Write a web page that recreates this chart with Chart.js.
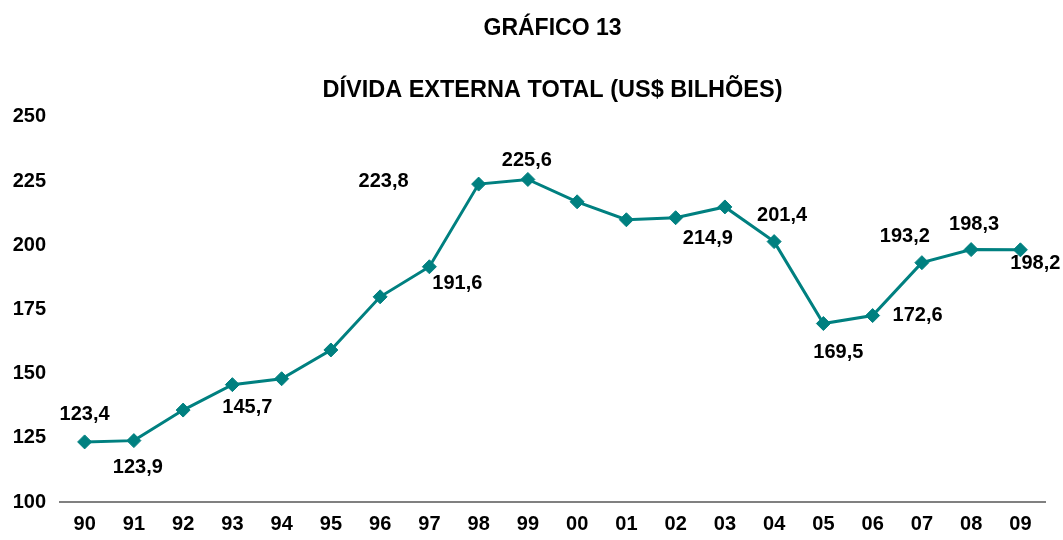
<!DOCTYPE html>
<html>
<head>
<meta charset="utf-8">
<script src="https://cdn.jsdelivr.net/npm/chart.js@4/dist/chart.umd.min.js"></script>
<style>
  body { margin: 0; background: #fff; }
  #wrap { width: 1063px; height: 540px; }
</style>
</head>
<body>
<div id="wrap"><canvas id="chart" width="1063" height="540"></canvas></div>
<script>
// anos (eixo x)
const years = ['90','91','92','93','94','95','96','97','98','99','00','01','02','03','04','05','06','07','08','09']
// divida externa total, US$ bilhoes
const debt = [123.4, 123.9, 135.8, 145.7, 148.0, 159.2, 179.9, 191.6, 223.8, 225.6,
              216.9, 209.9, 210.7, 214.9, 201.4, 169.5, 172.6, 193.2, 198.3, 198.2]
// quais pontos levam rotulo
const showLabel = [true, true, false, true, false, false, false, true, true, true,
                   false, false, false, true, true, true, true, true, true, true]
// deslocamento do rotulo em px (x, y) em relacao ao ponto
const labelOffset = [[0,-27],[4,27],null,[15,23],null,null,null,[28,17],[-95,-3],[-1,-19],
                     null,null,null,[-17,32],[8,-26],[15,29],[45,0],[-17,-26],[3,-25],[15,14]]

const yTicks = [100, 125, 150, 175, 200, 225, 250]

const FONT = "'Liberation Sans', Arial, sans-serif"
const TEAL = '#008080'

// desenha os valores ao lado dos pontos
const valueLabels = {
    id: 'valueLabels',
    afterDatasetsDraw(chart) {
        let ctx = chart.ctx
        let meta = chart.getDatasetMeta(0)
        ctx.save()
        ctx.font = 'bold 20px ' + FONT
        ctx.fillStyle = '#000'
        ctx.textAlign = 'center'
        ctx.textBaseline = 'middle'
        meta.data.forEach((pt, i) => {
            if (!showLabel[i]) return
            let off = labelOffset[i]
            let txt = debt[i].toFixed(1).replace('.', ',')
            ctx.fillText(txt, pt.x + off[0], pt.y + off[1])
        })
        ctx.restore()
    }
}

let ctx = document.getElementById('chart').getContext('2d')
let chart = new Chart(ctx, {
    type: 'line',
    data: {
        labels: years,
        datasets: [{
            data: debt,
            borderColor: TEAL,
            backgroundColor: TEAL,
            borderWidth: 3,
            pointStyle: 'rectRot',
            pointRadius: 7,
            pointBorderWidth: 1,
            pointBackgroundColor: TEAL,
            pointBorderColor: TEAL,
            tension: 0,
            fill: false
        }]
    },
    options: {
        responsive: false,
        animation: false,
        layout: { padding: { left: 12, right: 18, top: 0, bottom: 8 } },
        plugins: {
            legend: { display: false },
            tooltip: { enabled: false },
            title: {
                display: true,
                text: 'GRÁFICO 13',
                color: '#000',
                fullSize: false,
                font: { family: FONT, size: 23, weight: 'bold' },
                padding: { top: 15, bottom: 34 }
            },
            subtitle: {
                display: true,
                text: 'DÍVIDA EXTERNA TOTAL (US$ BILHÕES)',
                color: '#000',
                fullSize: false,
                font: { family: FONT, size: 23.5, weight: 'bold' },
                padding: { top: 0, bottom: 12 }
            }
        },
        scales: {
            x: {
                offset: true,
                grid: { display: false, drawTicks: false },
                border: { display: true, color: '#808080', width: 2 },
                ticks: { color: '#000', padding: 10, font: { family: FONT, size: 20, weight: 'bold' } },
                afterFit: axis => { axis.height = 30 }
            },
            y: {
                min: yTicks[0],
                max: yTicks[yTicks.length - 1],
                afterBuildTicks: axis => { axis.ticks = yTicks.map(v => ({ value: v })) },
                grid: { display: false, drawTicks: false },
                border: { display: false },
                ticks: { color: '#000', padding: 14, font: { family: FONT, size: 20, weight: 'bold' } },
                afterFit: axis => { axis.width = 48 }
            }
        }
    },
    plugins: [valueLabels]
})
</script>
</body>
</html>
